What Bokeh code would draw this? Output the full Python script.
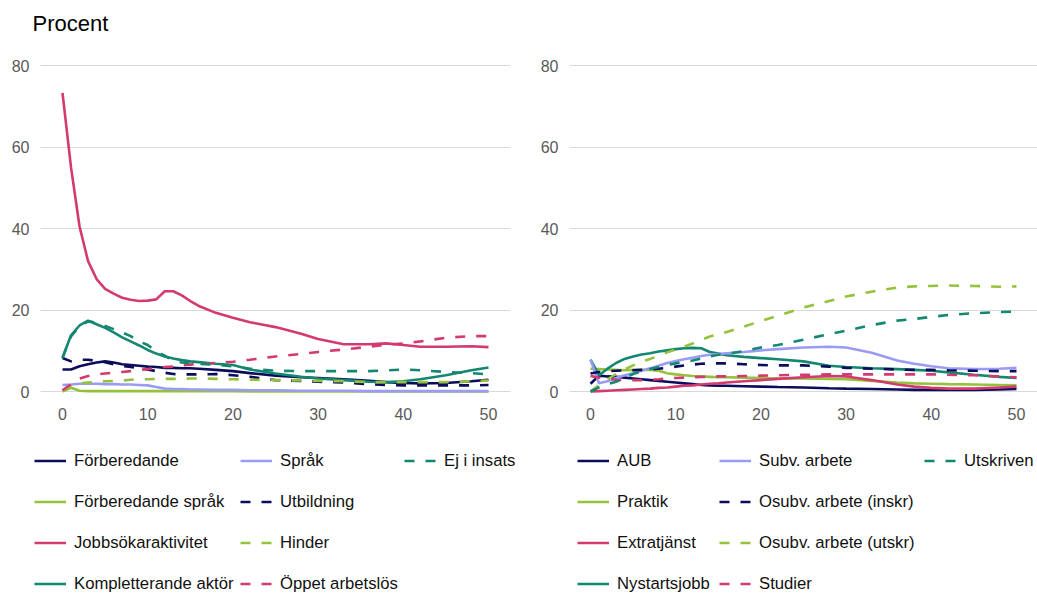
from bokeh.plotting import figure
from bokeh.models import Range1d, Legend, LegendItem, FixedTicker, Grid
from bokeh.layouts import row
from bokeh.embed import file_html
from bokeh.resources import INLINE

# ---------------- data ----------------
X = [0, 1, 2, 3, 4, 5, 6, 7, 8, 9, 10, 11, 12, 13, 14, 15, 16, 18, 20, 22,
     25, 28, 30, 33, 36, 38, 40, 42, 45, 48, 50]
TICKS_X = [0, 10, 20, 30, 40, 50]
TICKS_Y = [0, 20, 40, 60, 80]

# left panel
forberedande = [5.4, 5.4, 6.2, 6.7, 7.1, 7.4, 7.1, 6.7, 6.5, 6.3, 6.1, 6.0, 5.8, 5.8, 5.7, 5.7,
                5.6, 5.3, 5.0, 4.5, 3.9, 3.5, 3.3, 3.0, 2.6, 2.3, 2.1, 2.0, 2.1, 2.5, 2.9]
sprak = [1.6, 1.7, 1.9, 1.9, 1.9, 1.8, 1.8, 1.7, 1.7, 1.6, 1.5, 1.1, 0.7, 0.6, 0.6, 0.5,
         0.5, 0.4, 0.4, 0.3, 0.3, 0.2, 0.2, 0.2, 0.1, 0.1, 0.1, 0.1, 0.1, 0.1, 0.1]
ej_i_insats = [8.3, 13.5, 16.0, 17.2, 16.9, 16.1, 15.3, 14.5, 13.6, 12.3, 11.4, 9.8, 8.8, 7.6,
               7.1, 6.9, 6.8, 6.6, 6.2, 5.6, 5.1, 5.0, 5.0, 5.0, 5.0, 5.2, 5.4, 5.2, 4.8, 4.5, 4.2]
forb_sprak = [0.0, 0.9, 0.2, 0.1, 0.1, 0.1, 0.1, 0.1, 0.1, 0.1, 0.1, 0.1, 0.1, 0.1, 0.1, 0.1,
              0.1, 0.1, 0.1, 0.0, 0.0, 0.0, 0.0, 0.0, 0.0, 0.0, 0.0, 0.0, 0.0, 0.0, 0.0]
utbildning = [8.2, 7.4, 7.8, 7.8, 7.5, 7.2, 6.7, 6.3, 6.0, 5.7, 5.4, 5.0, 4.6, 4.3, 4.2, 4.2,
              4.2, 4.3, 4.0, 3.6, 2.8, 2.6, 2.4, 2.2, 1.8, 1.6, 1.5, 1.5, 1.5, 1.5, 1.6]
jobbsok = [73.3, 55.0, 40.5, 32.0, 27.6, 25.2, 24.0, 23.0, 22.5, 22.2, 22.3, 22.6, 24.6, 24.6,
           23.6, 22.2, 21.0, 19.3, 18.1, 17.0, 15.8, 14.2, 12.9, 11.6, 11.6, 11.8, 11.4, 11.0,
           11.0, 11.1, 10.9]
hinder = [0.2, 1.3, 2.0, 2.2, 2.3, 2.5, 2.6, 2.7, 2.9, 3.0, 3.0, 3.1, 3.1, 3.1, 3.1, 3.2,
          3.2, 3.1, 3.0, 2.9, 2.8, 2.7, 2.6, 2.5, 2.3, 2.3, 2.3, 2.3, 2.3, 2.5, 2.7]
kompletterande = [8.3, 13.8, 16.2, 17.4, 16.5, 15.6, 14.5, 13.3, 12.3, 11.3, 10.2, 9.3, 8.6,
                  8.1, 7.7, 7.4, 7.2, 6.8, 6.5, 5.4, 4.4, 3.6, 3.2, 2.8, 2.4, 2.3, 2.5, 3.0,
                  4.0, 5.2, 5.9]
oppet = [0.3, 1.8, 3.2, 3.8, 4.2, 4.4, 4.6, 4.8, 5.0, 5.3, 5.5, 5.8, 6.0, 6.1, 6.4, 6.6,
         6.8, 7.0, 7.3, 7.8, 8.6, 9.2, 9.7, 10.3, 11.0, 11.5, 11.8, 12.3, 13.2, 13.6, 13.6]

# right panel
aub = [1.9, 3.9, 3.7, 3.6, 3.4, 3.2, 3.0, 2.8, 2.6, 2.4, 2.2, 2.0, 1.8, 1.6, 1.5, 1.4,
       1.4, 1.3, 1.2, 1.1, 1.0, 0.8, 0.7, 0.6, 0.5, 0.4, 0.4, 0.4, 0.4, 0.5, 0.6]
subv = [7.8, 2.0, 2.5, 3.3, 4.0, 4.5, 5.1, 5.7, 6.3, 7.0, 7.5, 7.9, 8.3, 8.7, 9.0, 9.2,
        9.4, 9.7, 10.1, 10.4, 10.8, 11.0, 10.8, 9.5, 7.6, 6.8, 6.2, 5.7, 5.5, 5.6, 5.8]
utskriven = [0.0, 1.0, 1.8, 2.4, 3.3, 4.3, 4.9, 5.5, 6.0, 6.5, 6.9, 7.3, 7.6, 8.1, 8.6, 9.0,
             9.3, 9.9, 10.8, 11.4, 12.7, 14.1, 14.9, 16.3, 17.4, 17.8, 18.3, 18.8, 19.2,
             19.5, 19.6]
praktik = [5.6, 5.5, 5.4, 5.3, 5.2, 5.3, 5.3, 5.3, 5.1, 4.5, 4.2, 4.0, 3.8, 3.7, 3.6, 3.5,
           3.5, 3.4, 3.3, 3.2, 3.2, 3.1, 3.0, 2.6, 2.2, 2.0, 1.9, 1.8, 1.7, 1.6, 1.5]
osubv_inskr = [4.4, 4.8, 5.0, 5.1, 5.2, 5.2, 5.3, 5.4, 5.6, 5.8, 6.1, 6.4, 6.6, 6.8, 6.9, 6.9,
               6.9, 6.7, 6.5, 6.4, 6.4, 6.1, 5.8, 5.6, 5.4, 5.3, 5.3, 5.2, 5.1, 5.0, 5.0]
extratjanst = [0.0, 0.1, 0.2, 0.3, 0.4, 0.5, 0.6, 0.7, 0.9, 1.0, 1.2, 1.4, 1.5, 1.7, 1.9, 2.0,
               2.2, 2.5, 2.8, 3.1, 3.5, 3.8, 3.7, 2.8, 1.7, 1.2, 0.9, 0.7, 0.7, 1.0, 1.2]
osubv_utskr = [0.0, 1.6, 3.0, 4.3, 5.4, 6.4, 7.3, 8.0, 8.8, 9.6, 10.3, 11.0, 11.8, 12.7, 13.5,
               14.0, 14.6, 15.9, 17.3, 18.6, 20.6, 22.2, 23.3, 24.5, 25.5, 25.8, 25.9, 26.0,
               25.9, 25.7, 25.8]
nystart = [7.8, 4.0, 5.6, 7.0, 8.0, 8.6, 9.1, 9.4, 9.8, 10.1, 10.4, 10.6, 10.7, 10.6, 9.7, 9.3,
           8.9, 8.5, 8.2, 7.9, 7.4, 6.3, 6.0, 5.7, 5.5, 5.3, 5.1, 4.7, 4.1, 3.6, 3.3]
studier = [3.8, 3.4, 3.1, 2.9, 2.8, 2.8, 2.8, 2.9, 3.0, 3.2, 3.3, 3.4, 3.5, 3.6, 3.6, 3.7,
           3.7, 3.8, 3.9, 4.0, 4.1, 4.2, 4.2, 4.2, 4.2, 4.2, 4.2, 4.1, 4.0, 3.7, 3.5]

NAVY = "#0c0c5c"
LAV = "#9b9bf6"
TEAL = "#138770"
LGREEN = "#95c23d"
PINK = "#d33a6f"
DASH = "10 11"

# (label, values, color, dashed) per legend column
left_columns = [
    [("Förberedande", forberedande, NAVY, False),
     ("Förberedande språk", forb_sprak, LGREEN, False),
     ("Jobbsökaraktivitet", jobbsok, PINK, False),
     ("Kompletterande aktör", kompletterande, TEAL, False)],
    [("Språk", sprak, LAV, False),
     ("Utbildning", utbildning, NAVY, True),
     ("Hinder", hinder, LGREEN, True),
     ("Öppet arbetslös", oppet, PINK, True)],
    [("Ej i insats", ej_i_insats, TEAL, True)],
]
right_columns = [
    [("AUB", aub, NAVY, False),
     ("Praktik", praktik, LGREEN, False),
     ("Extratjänst", extratjanst, PINK, False),
     ("Nystartsjobb", nystart, TEAL, False)],
    [("Subv. arbete", subv, LAV, False),
     ("Osubv. arbete (inskr)", osubv_inskr, NAVY, True),
     ("Osubv. arbete (utskr)", osubv_utskr, LGREEN, True),
     ("Studier", studier, PINK, True)],
    [("Utskriven", utskriven, TEAL, True)],
]

FONT = "Liberation Sans"
H = 593
TOP = 40           # frame top (px)
ZERO_PX = 391      # pixel row of y = 0
X0_PX = 62         # pixel column of x = 0 inside each figure
PX_PER_X = 8.52
PX_PER_Y = 4.075
ROW_H = 21
ROW_GAP = 20
LEG_TOP = 450      # pixel row of legend top


def make_panel(columns, width, grid_left, grid_right, title, col_x):
    xs = -X0_PX / PX_PER_X
    xe = (width - X0_PX) / PX_PER_X
    gx0 = (grid_left - X0_PX) / PX_PER_X
    gx1 = (grid_right - X0_PX) / PX_PER_X
    ye = (ZERO_PX - TOP) / PX_PER_Y
    ys = -(H - ZERO_PX) / PX_PER_Y
    p = figure(width=width, height=H, output_backend="svg", toolbar_location=None,
               x_range=Range1d(xs, xe), y_range=Range1d(ys, ye),
               min_border_left=0, min_border_right=0,
               min_border_top=TOP, min_border_bottom=0)
    p.outline_line_color = None
    p.xgrid.visible = False
    p.ygrid.grid_line_color = "#d9d9d9"
    p.ygrid.grid_line_width = 1
    p.ygrid.ticker = FixedTicker(ticks=TICKS_Y)
    if "cross_bounds" in Grid.properties():
        p.ygrid.cross_bounds = (gx0, gx1)
    p.yaxis.ticker = FixedTicker(ticks=TICKS_Y)
    p.xaxis.ticker = FixedTicker(ticks=TICKS_X)
    p.xaxis.fixed_location = 0
    p.yaxis.fixed_location = gx0
    for ax in (p.xaxis[0], p.yaxis[0]):
        ax.axis_line_color = None
        ax.major_tick_line_color = None
        ax.minor_tick_line_color = None
        ax.major_tick_out = 0
        ax.major_tick_in = 0
        ax.major_label_text_font = FONT
        ax.major_label_text_font_size = "16px"
        ax.major_label_text_color = "#595959"
    p.yaxis.major_label_standoff = 11
    p.xaxis.major_label_standoff = 16
    if title:
        p.title.text = title
        p.title.text_font = FONT
        p.title.text_font_size = "22px"
        p.title.text_font_style = "normal"
        p.title.text_color = "#000000"
        p.title.align = "left"
        p.title.offset = 32
        p.title.standoff = 10

    for cx, col in zip(col_x, columns):
        items = []
        for label, vals, color, dashed in col:
            r = p.line(X, vals, line_color=color, line_width=2.6,
                       line_dash=DASH if dashed else "solid")
            items.append(LegendItem(label=label, renderers=[r]))
        n = len(col)
        leg_h = n * ROW_H + (n - 1) * ROW_GAP
        legend = Legend(items=items, orientation="vertical",
                        location=(cx, H - LEG_TOP - leg_h),
                        glyph_width=32, glyph_height=ROW_H, label_height=ROW_H,
                        label_standoff=8, spacing=ROW_GAP, padding=0, margin=0,
                        border_line_color=None, background_fill_alpha=0,
                        label_text_font=FONT, label_text_font_size="16.7px",
                        label_text_color="#111111")
        p.add_layout(legend)
    return p


p1 = make_panel(left_columns, 528, 40, 510, "Procent", [34, 240, 404])
p2 = make_panel(right_columns, 509, 41, 509, None, [49, 191, 396])

layout = row(p1, p2)
open("out.html", "w").write(file_html(layout, INLINE))
